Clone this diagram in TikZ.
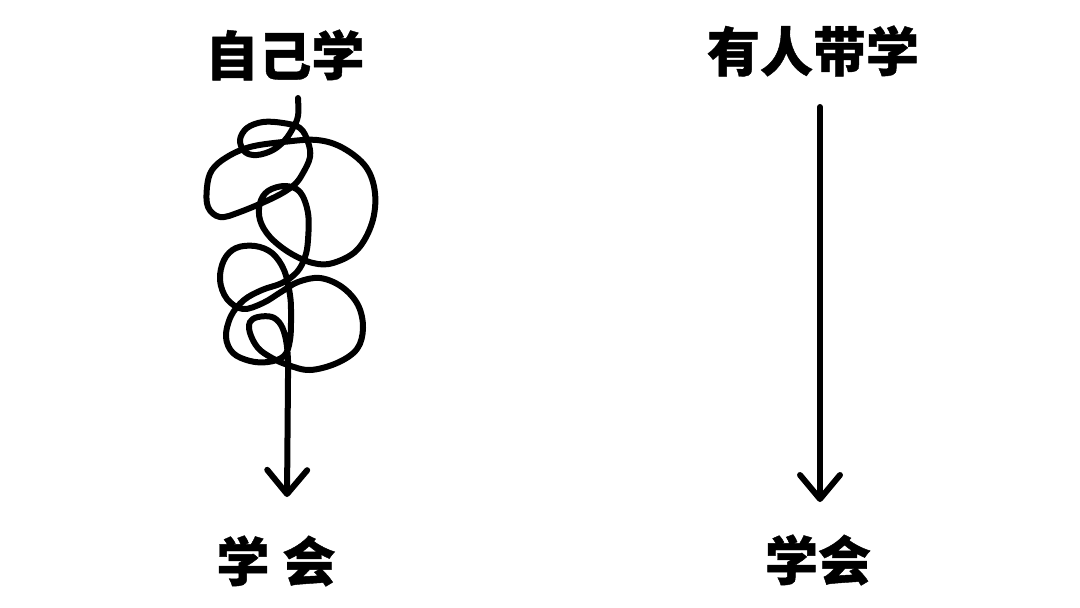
\documentclass[tikz,border=0pt]{standalone}
\usepackage{fontspec}
\newfontfamily\cjk[BoldFeatures={FakeBold=0.8}]{Noto Sans CJK SC}
\usetikzlibrary{arrows.meta}
\tikzset{
  ink/.style={line width=6pt, line cap=round, line join=round, black},
  arr/.style={ink, -{Straight Barb[length=24pt,width=40pt,round]}},
  lbl/.style={font=\cjk\bfseries\fontsize{53}{56}\selectfont, inner sep=0pt, anchor=center}
}
\begin{document}
\begin{tikzpicture}[x=1pt,y=-1pt]
\useasboundingbox (0,0) rectangle (1080,608);
\node[lbl] (self) at (285,55) {自己学};
\node[lbl] (led) at (813,51) {有人带学};
\node[lbl] (learnL) at (276,561) {学\hspace{0.25em}会};
\node[lbl] (learnR) at (818,560) {学会};
\coordinate (s0) at (298,98);
\coordinate (tipL) at (287,497);
\coordinate (r0) at (820,107);
\coordinate (tipR) at (820,502);
\draw[arr] plot[smooth, tension=0.6] coordinates {
 (s0) (298,116) (293,128) (285,140) (273,150) (257,155) (245,152) (240,140)
 (247,128) (263,122) (283,123) (300,128) (308,142) (310,157) (303,173)
 (294,185) (275,197) (240,212) (220,217) (208,207) (207,187) (212,170)
 (227,157) (250,147) (283,142) (317,140) (343,148) (366,167) (375,193)
 (372,223) (357,250) (333,263) (313,263) (290,253) (270,237) (260,220)
 (260,203) (268,191) (285,186) (300,192) (308,213) (308,240) (305,257)
 (297,272) (282,283) (262,290) (244,300) (231,316) (226,337) (233,353)
 (250,361) (268,362) (284,356) (290,340) (291,315) (290,295) (284,270)
 (272,253) (255,246) (236,248) (224,260) (220,280) (227,299) (243,309)
 (263,303) (281,292) (298,282) (320,278) (342,287) (358,305) (363,328)
 (357,349) (337,363) (310,370) (288,365) (272,358) (258,348) (250,333)
 (250,322) (258,317) (272,317) (281,325) (286,340) (288,360) (288,378)
} -- (tipL);
\draw[arr] (r0) -- (tipR);
\end{tikzpicture}
\end{document}
